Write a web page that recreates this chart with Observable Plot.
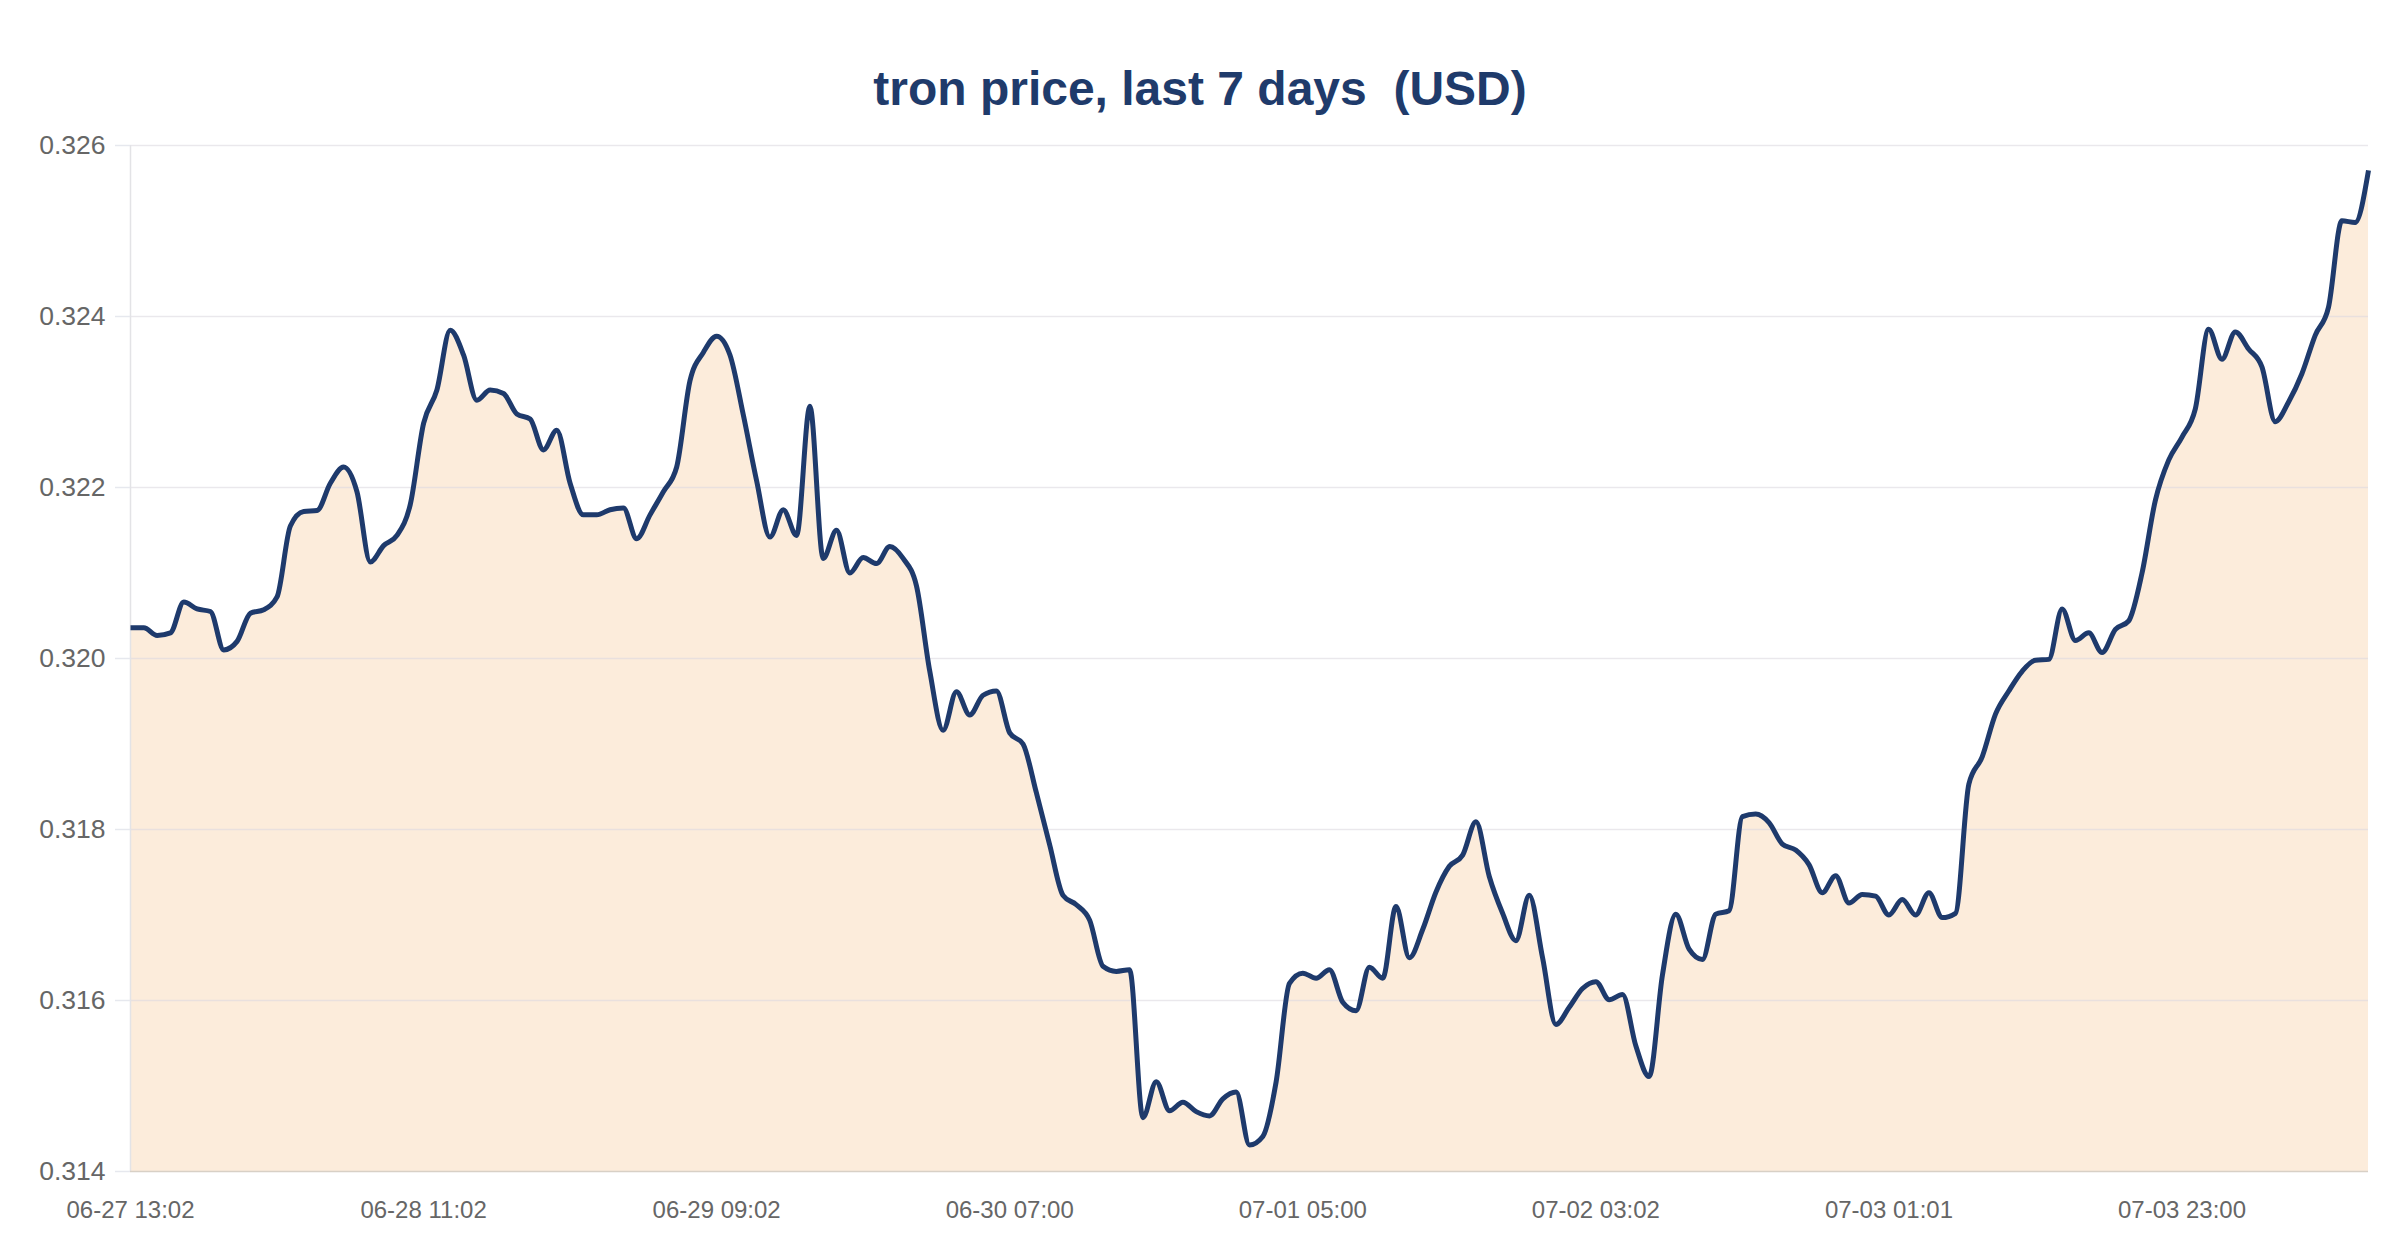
<!DOCTYPE html>
<html>
<head>
<meta charset="utf-8">
<script src="https://cdn.jsdelivr.net/npm/d3@7"></script>
<script src="https://cdn.jsdelivr.net/npm/@observablehq/plot@0.6"></script>
<style>
  html, body { margin: 0; padding: 0; background: #ffffff; }
  #title {
    width: 2400px; height: 120px; box-sizing: border-box; padding-top: 65px;
    font-family: "Liberation Sans", Arial, sans-serif; font-weight: bold; font-size: 48px;
    line-height: 48px; color: #1f3b6b; text-align: center; white-space: pre;
  }
  #chart svg { display: block; }
  #chart svg g.yaxis text { font-size: 26.5px; }
</style>
</head>
<body>
<div id="title">tron price, last 7 days  (USD)</div>
<div id="chart"></div>
<script>
// Hourly TRX price (USD), hour index 0 = 06-27 13:02
const prices = [
  0.32036, 0.32036, 0.32027, 0.32030, 0.32066, 0.32058, 0.32055, 0.32010, 0.32020, 0.32053,
  0.32057, 0.32072, 0.32155, 0.32172, 0.32173, 0.32205, 0.32224, 0.32195, 0.32113, 0.32132,
  0.32144, 0.32180, 0.32275, 0.32314, 0.32384, 0.32355, 0.32302, 0.32314, 0.32310, 0.32286,
  0.32280, 0.32244, 0.32267, 0.32205, 0.32168, 0.32168, 0.32174, 0.32176, 0.32140, 0.32168,
  0.32195, 0.32224, 0.32325, 0.32358, 0.32377, 0.32355, 0.32285, 0.32208, 0.32142, 0.32174,
  0.32144, 0.32295, 0.32117, 0.32150, 0.32100, 0.32118, 0.32111, 0.32131, 0.32117, 0.32085,
  0.31985, 0.31916, 0.31961, 0.31934, 0.31957, 0.31962, 0.31913, 0.31900, 0.31843, 0.31782,
  0.31723, 0.31712, 0.31694, 0.31640, 0.31634, 0.31636, 0.31463, 0.31505, 0.31471, 0.31481,
  0.31470, 0.31465, 0.31485, 0.31493, 0.31431, 0.31441, 0.31505, 0.31620, 0.31632, 0.31626,
  0.31636, 0.31598, 0.31588, 0.31639, 0.31626, 0.31710, 0.31650, 0.31683, 0.31727, 0.31757,
  0.31770, 0.31809, 0.31745, 0.31702, 0.31670, 0.31723, 0.31650, 0.31572, 0.31592, 0.31614,
  0.31622, 0.31601, 0.31607, 0.31547, 0.31511, 0.31630, 0.31701, 0.31660, 0.31648, 0.31701,
  0.31705, 0.31815, 0.31818, 0.31808, 0.31783, 0.31776, 0.31759, 0.31726, 0.31746, 0.31714,
  0.31724, 0.31722, 0.31700, 0.31718, 0.31700, 0.31726, 0.31697, 0.31702, 0.31853, 0.31885,
  0.31935, 0.31962, 0.31985, 0.31998, 0.31999, 0.32058, 0.32021, 0.32030, 0.32007, 0.32034,
  0.32044, 0.32100, 0.32185, 0.32232, 0.32259, 0.32292, 0.32385, 0.32350, 0.32382, 0.32362,
  0.32341, 0.32277, 0.32300, 0.32333, 0.32378, 0.32411, 0.32512, 0.32510, 0.32571
];
const tickHours = [0, 22, 44, 66, 88, 110, 132, 154];
const tickLabels = ["06-27 13:02", "06-28 11:02", "06-29 09:02", "06-30 07:00",
                    "07-01 05:00", "07-02 03:02", "07-03 01:01", "07-03 23:00"];
const yTicks = [0.314, 0.316, 0.318, 0.320, 0.322, 0.324, 0.326];

const data = prices.map((p, h) => ({h, p}));
const font = '"Liberation Sans", Arial, sans-serif';

const chart = Plot.plot({
  width: 2400,
  height: 1140,
  marginTop: 25,
  marginLeft: 130,
  marginRight: 32,
  marginBottom: 89,
  style: {fontFamily: font, fontSize: "24px", background: "#ffffff", color: "#666666"},
  x: {domain: [0, prices.length - 1], axis: null},
  y: {domain: [0.314, 0.326], axis: null},
  marks: [
    Plot.areaY(data, {x: "h", y1: 0.314, y2: "p", fill: "#fcecdb", curve: "monotone-x"}),
    Plot.ruleY(yTicks.slice(1), {stroke: "#dcd9e0", strokeOpacity: 0.6, strokeWidth: 1.5}),
    Plot.ruleX([0], {stroke: "#e3e3e6", strokeWidth: 1.5}),
    Plot.ruleY([0.314], {stroke: "#d8d0c6", strokeWidth: 1.5}),
    Plot.axisY(yTicks, {tickSize: 15, tickPadding: 10, stroke: "#e6e8ee", strokeWidth: 1.5, fill: "#666666",
      fontSize: 26.5, className: "yaxis", label: null, tickFormat: d => d.toFixed(3)}),
    Plot.axisX(tickHours, {tickSize: 0, tickPadding: 29, fill: "#666666", fontSize: 24, label: null,
      tickFormat: d => tickLabels[tickHours.indexOf(d)]}),
    Plot.line(data, {x: "h", y: "p", stroke: "#1e3a6c", strokeWidth: 5, curve: "monotone-x",
      strokeLinejoin: "round", strokeLinecap: "butt"})
  ]
});
// make sure the y tick labels get their size
d3.select(chart).selectAll("[aria-label='y-axis tick label'] text, [aria-label='y-axis tick label']")
  .style("font-size", "26.5px");
document.getElementById("chart").appendChild(chart);
</script>
</body>
</html>
